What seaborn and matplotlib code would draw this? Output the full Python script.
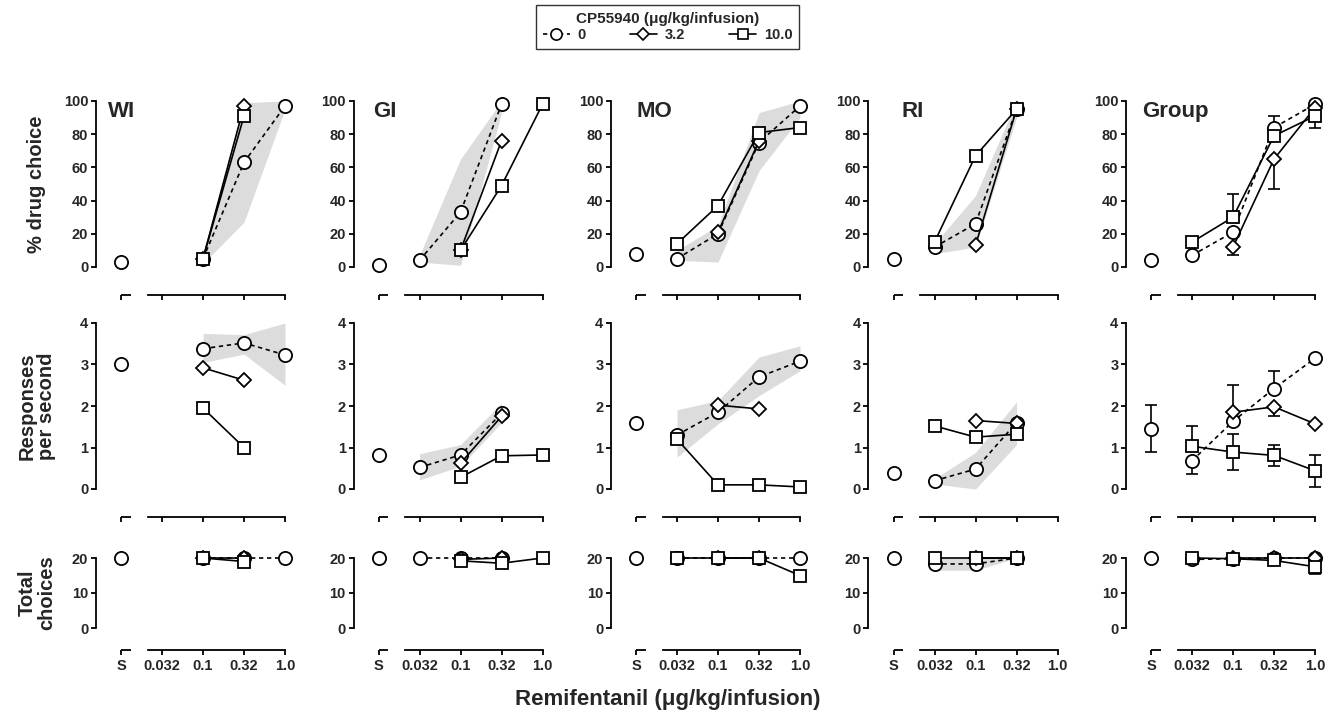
import numpy as np
import pandas as pd
import matplotlib
matplotlib.use("Agg")
import matplotlib.pyplot as plt
import matplotlib.transforms as mtransforms
from matplotlib.lines import Line2D
import seaborn as sns

N = np.nan

subjects = ["WI", "GI", "MO", "RI", "Group"]
x_labels = ["S", "0.032", "0.1", "0.32", "1.0"]
cp_labels = ["0", "3.2", "10.0"]

# ---------------- % drug choice (doses 0.032, 0.1, 0.32, 1.0) ----------------
choice_saline = [3, 1, 8, 5, 4]
choice_cp0 = {"WI": [N, 5, 63, 97], "GI": [4, 33, 98, N], "MO": [5, 20, 75, 97],
              "RI": [12, 26, 95, N], "Group": [7, 21, 84, 98]}
choice_cp32 = {"WI": [N, 5, 97, N], "GI": [N, 10, 76, N], "MO": [N, 21, 76, N],
               "RI": [N, 13, 95, N], "Group": [N, 12, 65, 96]}
choice_cp10 = {"WI": [N, 5, 91, N], "GI": [N, 10, 49, 98], "MO": [14, 37, 81, 84],
               "RI": [15, 67, 95, N], "Group": [15, 30, 79, 91]}
choice_band_lo = {"WI": [N, 2, 27, 95], "GI": [3, 1, 93, N], "MO": [4, 3, 58, 90],
                  "RI": [8, 12, 90, N]}
choice_band_hi = {"WI": [N, 8, 99, 100], "GI": [7, 65, 100, N], "MO": [10, 25, 93, 100],
                  "RI": [14, 43, 100, N]}
choice_group_lo = {"0": [N, N, N, N], "3.2": [N, 7.5, 47, N], "10.0": [N, N, N, 84]}
choice_group_hi = {"0": [N, N, N, N], "3.2": [N, N, N, N], "10.0": [N, 44, 91, N]}
choice_group_sal_err = [N, N]

# ---------------- responses per second ----------------
rate_saline = [3.0, 0.83, 1.6, 0.38, 1.45]
rate_cp0 = {"WI": [N, 3.38, 3.52, 3.23], "GI": [0.52, 0.82, 1.82, N],
            "MO": [1.3, 1.85, 2.7, 3.08], "RI": [0.2, 0.48, 1.6, N],
            "Group": [0.68, 1.63, 2.42, 3.15]}
rate_cp32 = {"WI": [N, 2.92, 2.62, N], "GI": [N, 0.62, 1.75, N],
             "MO": [N, 2.02, 1.93, N], "RI": [N, 1.65, 1.58, N],
             "Group": [N, 1.85, 1.98, 1.57]}
rate_cp10 = {"WI": [N, 1.95, 1.0, N], "GI": [N, 0.28, 0.8, 0.82],
             "MO": [1.2, 0.1, 0.1, 0.05], "RI": [1.52, 1.25, 1.32, N],
             "Group": [1.03, 0.89, 0.81, 0.44]}
rate_band_lo = {"WI": [N, 3.05, 3.25, 2.5], "GI": [0.22, 0.55, 1.6, N],
                "MO": [0.77, 1.57, 2.25, 2.85], "RI": [0.12, 0.0, 1.07, N]}
rate_band_hi = {"WI": [N, 3.75, 3.72, 4.0], "GI": [0.85, 1.07, 2.07, N],
                "MO": [1.91, 2.13, 3.18, 3.45], "RI": [0.25, 0.88, 2.1, N]}
rate_group_lo = {"0": [0.35, N, N, N], "3.2": [N, N, 1.77, N], "10.0": [N, 0.46, 0.56, 0.05]}
rate_group_hi = {"0": [N, N, 2.85, N], "3.2": [N, 2.51, N, N], "10.0": [1.51, 1.32, 1.05, 0.81]}
rate_group_sal_err = [0.88, 2.02]

# ---------------- total choices ----------------
total_saline = [20, 20, 20, 20, 20]
total_cp0 = {"WI": [N, 20, 20, 20], "GI": [20, 20, 20, N], "MO": [20, 20, 20, 20],
             "RI": [18.3, 18.3, 20, N], "Group": [19.6, 19.8, 20, 20]}
total_cp32 = {"WI": [N, 20, 20, N], "GI": [N, 19.6, 20, N], "MO": [N, 20, 20, N],
              "RI": [N, 20, 20, N], "Group": [N, 20, 20, 20]}
total_cp10 = {"WI": [N, 20, 19, N], "GI": [N, 19.2, 18.5, 20], "MO": [20, 20, 20, 15],
              "RI": [20, 20, 20, N], "Group": [20, 19.8, 19.3, 17.5]}
total_band_lo = {"RI": [16.5, 16.5, 20, N]}
total_band_hi = {"RI": [20, 20, 20, N]}
total_group_lo = {"0": [N, N, N, N], "3.2": [N, N, N, N], "10.0": [N, N, N, 15.3]}
total_group_hi = {"0": [N, N, N, N], "3.2": [N, N, N, N], "10.0": [N, N, N, N]}
total_group_sal_err = [N, N]

measures = [
    dict(sal=choice_saline, series=[choice_cp0, choice_cp32, choice_cp10],
         band=(choice_band_lo, choice_band_hi), glo=choice_group_lo, ghi=choice_group_hi,
         salerr=choice_group_sal_err, ylim=(0, 100), yticks=[0, 20, 40, 60, 80, 100],
         label="% drug choice"),
    dict(sal=rate_saline, series=[rate_cp0, rate_cp32, rate_cp10],
         band=(rate_band_lo, rate_band_hi), glo=rate_group_lo, ghi=rate_group_hi,
         salerr=rate_group_sal_err, ylim=(0, 4), yticks=[0, 1, 2, 3, 4],
         label="Responses\nper second"),
    dict(sal=total_saline, series=[total_cp0, total_cp32, total_cp10],
         band=(total_band_lo, total_band_hi), glo=total_group_lo, ghi=total_group_hi,
         salerr=total_group_sal_err, ylim=(0, 20), yticks=[0, 10, 20],
         label="Total\nchoices"),
]

# ---------------- styling ----------------
sns.set_theme(style="ticks")
plt.rcParams["font.family"] = ["Liberation Sans", "DejaVu Sans"]
plt.rcParams["font.weight"] = "bold"
plt.rcParams["axes.linewidth"] = 1.3

styles = {
    "0": dict(marker="o", markersize=9.5, linestyle=(0, (2.6, 2.2)), zorder=4),
    "3.2": dict(marker="D", markersize=7, linestyle="-", zorder=5),
    "10.0": dict(marker="s", markersize=9, linestyle="-", zorder=6),
}
BAND = "#dcdcdc"

W, H = 1336, 714
fig = plt.figure(figsize=(W / 100, H / 100), dpi=100)

col_left = [96 + 257.5 * i for i in range(5)]
col_w = 189
row_px = [(101, 267), (323, 489), (558, 628)]
row_off_pt = [20.2, 20.2, 15.5]
title_dx = [12, 20, 25, 33, 16]
xpos = np.arange(len(x_labels))  # S, 0.032, 0.1, 0.32, 1.0

for r, m in enumerate(measures):
    top, bot = row_px[r]
    for c, subj in enumerate(subjects):
        ax = fig.add_axes([col_left[c] / W, 1 - bot / H, col_w / W, (bot - top) / H])
        # band
        blo, bhi = m["band"]
        if subj in blo:
            lo = np.array(blo[subj], float)
            hi = np.array(bhi[subj], float)
            ok = ~np.isnan(lo)
            ax.fill_between(xpos[1:][ok], lo[ok], hi[ok], color=BAND, lw=0,
                            zorder=1, clip_on=False)
        # error bars for group
        if subj == "Group":
            for k, cp in enumerate(cp_labels):
                vals = np.array(m["series"][k][subj], float)
                lo = np.array(m["glo"][cp], float)
                hi = np.array(m["ghi"][cp], float)
                has = ~(np.isnan(lo) & np.isnan(hi)) & ~np.isnan(vals)
                if has.any():
                    el = np.where(np.isnan(lo), 0, vals - lo)[has]
                    eh = np.where(np.isnan(hi), 0, hi - vals)[has]
                    ax.errorbar(xpos[1:][has], vals[has], yerr=[el, eh], fmt="none",
                                ecolor="black", elinewidth=1.2, capsize=4.5,
                                capthick=1.2, zorder=2, clip_on=False)
            if not np.isnan(m["salerr"][0]):
                sv = m["sal"][c]
                ax.errorbar([xpos[0]], [sv], yerr=[[sv - m["salerr"][0]], [m["salerr"][1] - sv]],
                            fmt="none", ecolor="black", elinewidth=1.2, capsize=4.5,
                            capthick=1.2, zorder=2, clip_on=False)
        # series
        for k, cp in enumerate(cp_labels):
            vals = np.array(m["series"][k][subj], float)
            df = pd.DataFrame({"x": xpos[1:], "y": vals}).dropna()
            st = styles[cp]
            sns.lineplot(data=df, x="x", y="y", ax=ax, color="black", errorbar=None,
                         marker=st["marker"], markersize=st["markersize"],
                         markerfacecolor="white", markeredgecolor="black",
                         markeredgewidth=1.3, linewidth=1.2, linestyle=st["linestyle"],
                         zorder=st["zorder"], clip_on=False)
        # saline point
        sdf = pd.DataFrame({"x": [xpos[0]], "y": [m["sal"][c]]})
        sns.lineplot(data=sdf, x="x", y="y", ax=ax, color="black", errorbar=None,
                     marker="o", markersize=9.5, markerfacecolor="white",
                     markeredgecolor="black", markeredgewidth=1.3, linewidth=0,
                     zorder=4, clip_on=False)

        ax.set_xlim(-0.61, 4.0)
        ax.set_ylim(*m["ylim"])
        ax.set_yticks(m["yticks"])
        ax.set_xticks(xpos)
        ax.set_xlabel("")
        ax.set_ylabel("")
        ax.set_facecolor("none")
        for s in ["top", "right"]:
            ax.spines[s].set_visible(False)
        ax.spines["left"].set_color("black")
        ax.spines["bottom"].set_color("black")
        ax.spines["bottom"].set_position(("outward", row_off_pt[r]))
        ax.spines["bottom"].set_bounds(0.65, 4.0)
        tr = ax.get_xaxis_transform() + mtransforms.ScaledTranslation(
            0, -row_off_pt[r] / 72, fig.dpi_scale_trans)
        ax.plot([0, 0.24], [0, 0], color="black", lw=1.3, transform=tr,
                clip_on=False, solid_capstyle="butt")
        ax.tick_params(axis="both", direction="out", length=3.5, width=1.3,
                       color="black", labelsize=10.5, pad=2)
        if r == 2:
            ax.set_xticklabels(x_labels)
            ax.tick_params(axis="x", pad=3)
        else:
            ax.set_xticklabels([])
        for lab in ax.get_xticklabels() + ax.get_yticklabels():
            lab.set_fontweight("bold")
        if r == 0:
            ax.text(title_dx[c] / col_w * 4.61 - 0.61, 1.0, subj,
                    transform=ax.get_xaxis_transform(), ha="left", va="top",
                    fontsize=16, fontweight="bold")
    # row label
    fig.text(37 / W, 1 - (top + bot) / 2 / H, m["label"], rotation=90, ha="center",
             va="center", fontsize=14.5, fontweight="bold", multialignment="center",
             linespacing=1.05)

fig.text(0.5, 1 - 699 / H, "Remifentanil (\u03bcg/kg/infusion)", ha="center",
         va="center", fontsize=16, fontweight="bold")

handles = []
for cp in cp_labels:
    st = styles[cp]
    handles.append(Line2D([], [], color="black", lw=1.2, linestyle=st["linestyle"],
                          marker=st["marker"], markersize=st["markersize"] * 0.85,
                          markerfacecolor="white", markeredgecolor="black",
                          markeredgewidth=1.2))
leg = fig.legend(handles, cp_labels, title="CP55940 (\u03bcg/kg/infusion)", ncol=3,
                 loc="upper center", bbox_to_anchor=(0.4996, 0.993), frameon=True,
                 fancybox=False, edgecolor="black", fontsize=10.5,
                 title_fontproperties={"weight": "bold", "size": 11},
                 handlelength=1.9, columnspacing=3.0, handletextpad=0.5,
                 borderpad=0.45, labelspacing=0.2, borderaxespad=0)
leg.get_frame().set_linewidth(1.0)
for t in leg.get_texts():
    t.set_fontweight("bold")

fig.savefig("out.png", dpi=100)
